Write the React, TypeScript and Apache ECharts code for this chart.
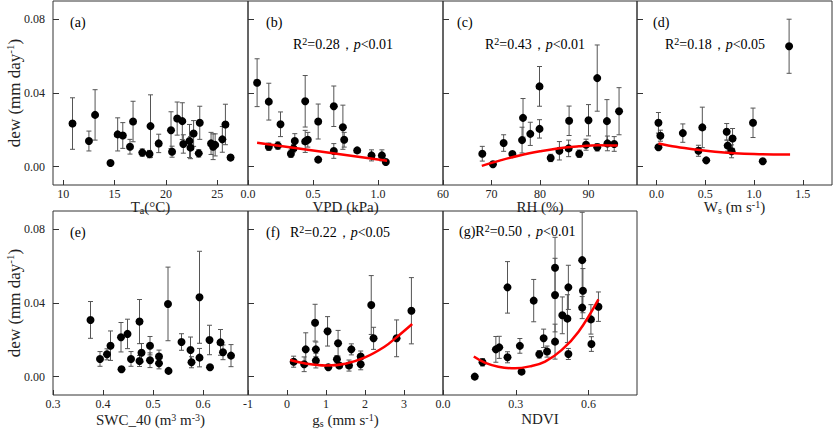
import React, { useEffect, useRef } from 'react';
import * as echarts from 'echarts';

type Pt = [number, number, number]; // x, dew, error
type Fit = [number, number];

// dew vs air temperature
const taPoints: Pt[] = [
  [10.9, 0.0234, 0.014], [12.5, 0.0139, 0.0054], [13.1, 0.0281, 0.0137], [14.6, 0.002, 0],
  [15.3, 0.0175, 0.009], [15.8, 0.0169, 0.007], [16.5, 0.0108, 0.004], [16.8, 0.0245, 0.011],
  [17.7, 0.0076, 0.002], [18.4, 0.0068, 0.002], [18.5, 0.022, 0.017], [19.3, 0.0126, 0.005],
  [20.5, 0.0198, 0.01], [20.6, 0.0081, 0.003], [21.1, 0.0261, 0.009], [21.6, 0.0247, 0.01],
  [21.7, 0.0123, 0.005], [22.3, 0.0139, 0.009], [22.4, 0.0103, 0.006], [22.7, 0.018, 0.007],
  [23.3, 0.0238, 0.009], [23.2, 0.0072, 0.002], [24.4, 0.0126, 0.006], [24.6, 0.0108, 0.007],
  [24.8, 0.0118, 0.006], [25.5, 0.0148, 0.007], [25.8, 0.0229, 0.011], [26.3, 0.0049, 0],
];

const vpdPoints: Pt[] = [
  [0.07, 0.0456, 0.013], [0.16, 0.0353, 0.01], [0.16, 0.0108, 0.002], [0.23, 0.0114, 0.002],
  [0.25, 0.023, 0.0067], [0.33, 0.007, 0.002], [0.35, 0.0099, 0.002], [0.36, 0.0139, 0.004],
  [0.44, 0.0355, 0.014], [0.44, 0.0137, 0.006], [0.46, 0.0146, 0.004], [0.54, 0.0245, 0.0095],
  [0.54, 0.0038, 0], [0.66, 0.0328, 0.011], [0.66, 0.0085, 0.004], [0.73, 0.0214, 0.012],
  [0.74, 0.0146, 0.004], [0.84, 0.0088, 0.001], [0.95, 0.0061, 0.003], [1.03, 0.0061, 0.003],
  [1.06, 0.0025, 0],
];
const vpdFit: Fit[] = [[0.07, 0.013], [1.07, 0.0032]];

const rhPoints: Pt[] = [
  [68.1, 0.007, 0.004], [70.3, 0.0013, 0], [72.5, 0.0128, 0.0045], [74.3, 0.0068, 0.001],
  [76.5, 0.0265, 0.0105], [76.3, 0.0144, 0.007], [78.0, 0.0178, 0.0063], [79.9, 0.0436, 0.0108],
  [79.9, 0.0205, 0.005], [82.2, 0.0047, 0.002], [84.0, 0.0086, 0.005], [86.0, 0.0249, 0.008],
  [85.9, 0.0099, 0.0045], [88.1, 0.007, 0.002], [89.5, 0.0119, 0.003], [90.0, 0.0252, 0.0085],
  [91.8, 0.0481, 0.018], [91.8, 0.0105, 0.002], [93.8, 0.0247, 0.0117], [93.9, 0.0126, 0.004],
  [95.3, 0.0123, 0.004], [96.3, 0.0301, 0.0128],
];
const rhFit: Fit[] = [
  [68, 0.0004], [72, 0.0035], [76, 0.0062], [80, 0.0083], [84, 0.01], [88, 0.011], [92, 0.0116], [96, 0.0114],
];

const wsPoints: Pt[] = [
  [0.02, 0.0238, 0.0056], [0.04, 0.0168, 0.003], [0.02, 0.0105, 0.001], [0.27, 0.0182, 0.005],
  [0.43, 0.0086, 0.003], [0.47, 0.0213, 0.011], [0.51, 0.0034, 0], [0.72, 0.0189, 0.0045],
  [0.73, 0.0114, 0.003], [0.78, 0.0153, 0.0054], [0.77, 0.0083, 0.0035], [0.99, 0.0238, 0.008],
  [1.09, 0.0029, 0], [1.36, 0.0654, 0.0147],
];
const wsFit: Fit[] = [
  [0.02, 0.0126], [0.2, 0.0108], [0.4, 0.0093], [0.6, 0.0081], [0.8, 0.0073], [1.0, 0.0068], [1.2, 0.0066], [1.37, 0.0066],
];

const swcPoints: Pt[] = [
  [0.375, 0.0308, 0.01], [0.394, 0.0096, 0.004], [0.408, 0.0121, 0.003], [0.415, 0.0168, 0.008],
  [0.436, 0.0214, 0.008], [0.437, 0.004, 0], [0.449, 0.0232, 0.008], [0.456, 0.0096, 0.004],
  [0.473, 0.0299, 0.012], [0.473, 0.0085, 0.003], [0.477, 0.013, 0.005], [0.494, 0.0168, 0.005],
  [0.494, 0.0089, 0.004], [0.512, 0.0109, 0.0035], [0.512, 0.0072, 0.003], [0.53, 0.0395, 0.02],
  [0.531, 0.0031, 0], [0.557, 0.0188, 0.0045], [0.575, 0.0145, 0.007], [0.577, 0.0078, 0.003],
  [0.593, 0.0431, 0.025], [0.593, 0.0103, 0.005], [0.613, 0.0199, 0.008], [0.614, 0.0051, 0.001],
  [0.635, 0.0186, 0.007], [0.64, 0.0132, 0.004], [0.656, 0.0114, 0.006],
];

const gsPoints: Pt[] = [
  [0.17, 0.0081, 0.003], [0.44, 0.0067, 0.004], [0.48, 0.0148, 0.009], [0.72, 0.0293, 0.01],
  [0.74, 0.0148, 0.004], [0.74, 0.0087, 0.004], [1.04, 0.0246, 0.008], [1.06, 0.0051, 0.001],
  [1.28, 0.0094, 0.002], [1.31, 0.0181, 0.007], [1.34, 0.006, 0.001], [1.59, 0.006, 0.003],
  [1.65, 0.0148, 0.003], [1.89, 0.0067, 0.003], [1.89, 0.0109, 0.003], [2.16, 0.0389, 0.016],
  [2.22, 0.0208, 0.006], [2.81, 0.0208, 0.01], [3.19, 0.0358, 0.018],
];
const gsFit: Fit[] = [
  [0.08, 0.009], [0.5, 0.007], [1.0, 0.006], [1.5, 0.007], [2.0, 0.0104], [2.5, 0.0162], [2.8, 0.0212], [3.21, 0.0286],
];

const ndviPoints: Pt[] = [
  [0.131, 0.0, 0], [0.163, 0.0078, 0.002], [0.218, 0.0148, 0.007], [0.232, 0.0159, 0.006],
  [0.266, 0.0485, 0.014], [0.266, 0.0105, 0.003], [0.317, 0.0167, 0.004], [0.324, 0.0027, 0],
  [0.374, 0.0413, 0.0115], [0.397, 0.0121, 0.002], [0.415, 0.0208, 0.005], [0.429, 0.0136, 0.003],
  [0.462, 0.0592, 0.0165], [0.462, 0.0443, 0.02], [0.462, 0.019, 0.0095], [0.492, 0.0333, 0.01],
  [0.513, 0.0315, 0.013], [0.517, 0.0485, 0.012], [0.517, 0.0123, 0.003], [0.574, 0.0633, 0.026],
  [0.577, 0.0467, 0.012], [0.574, 0.0375, 0.006], [0.61, 0.0311, 0.008], [0.612, 0.0177, 0.004],
  [0.641, 0.038, 0.008],
];
const ndviFit: Fit[] = [
  [0.127, 0.0109], [0.172, 0.0076], [0.228, 0.0054], [0.297, 0.0045], [0.366, 0.0058],
  [0.421, 0.0081], [0.49, 0.0145], [0.559, 0.0244], [0.641, 0.042],
];

const dewTicks = [0, 0.04, 0.08];

const FONT = 'Liberation Serif';
const INK = '#222';

const rich = {
  n: { fontFamily: FONT, fontSize: 15, color: INK, lineHeight: 16 },
  sub: { fontFamily: FONT, fontSize: 10, color: INK, lineHeight: 9, verticalAlign: 'bottom' },
  sup: { fontFamily: FONT, fontSize: 10, color: INK, lineHeight: 9, verticalAlign: 'top' },
  i: { fontFamily: FONT, fontSize: 14, color: INK, fontStyle: 'italic', lineHeight: 16 },
  s: { fontFamily: FONT, fontSize: 14, color: INK, lineHeight: 16 },
};

const panels = [
  { left: 53, top: 1, width: 195, min: 9, max: 28, ticks: [10, 15, 20, 25], digits: 0, name: '{n|T}{sub|a}{n|(°C)}', gap: 14, points: taPoints, fit: null as Fit[] | null, yLabel: true },
  { left: 248, top: 1, width: 195, min: 0, max: 1.5, ticks: [0, 0.5, 1.0], digits: 1, name: '{n|VPD (kPa)}', gap: 14, points: vpdPoints, fit: vpdFit, yLabel: false },
  { left: 443, top: 1, width: 194, min: 60, max: 100, ticks: [60, 70, 80, 90], digits: 0, name: '{n|RH (%)}', gap: 14, points: rhPoints, fit: rhFit, yLabel: false },
  { left: 637, top: 1, width: 195, min: -0.2, max: 1.8, ticks: [0, 0.5, 1.0, 1.5], digits: 1, name: '{n|W}{sub|s}{n| (m s}{sup|-1}{n|)}', gap: 14, points: wsPoints, fit: wsFit, yLabel: false },
  { left: 53, top: 211, width: 195, min: 0.3, max: 0.69, ticks: [0.3, 0.4, 0.5, 0.6], digits: 1, name: '{n|SWC_40 (m}{sup|3}{n| m}{sup|-3}{n|)}', gap: 17, points: swcPoints, fit: null, yLabel: true },
  { left: 248, top: 211, width: 195, min: -1, max: 4, ticks: [-1, 0, 1, 2, 3], digits: 0, name: '{n|g}{sub|s}{n| (mm s}{sup|-1}{n|)}', gap: 17, points: gsPoints, fit: gsFit, yLabel: false },
  { left: 443, top: 211, width: 194, min: 0, max: 0.8, ticks: [0, 0.3, 0.6], digits: 1, name: '{n|NDVI}', gap: 16, points: ndviPoints, fit: ndviFit, yLabel: false },
];

const stat = (r2: string, p: string) => `{s|R}{sup|2}{s|=${r2}，}{i|p}{s|<${p}}`;

const labels = [
  { x: 70, y: 22, text: '{s|(a)}' },
  { x: 266, y: 22, text: '{s|(b)}' },
  { x: 457, y: 22, text: '{s|(c)}' },
  { x: 653, y: 22, text: '{s|(d)}' },
  { x: 293, y: 44, text: stat('0.28', '0.01') },
  { x: 485, y: 44, text: stat('0.43', '0.01') },
  { x: 665, y: 44, text: stat('0.18', '0.05') },
  { x: 70, y: 232, text: '{s|(e)}' },
  { x: 266, y: 232, text: '{s|(f)}' },
  { x: 290, y: 232, text: stat('0.22', '0.05') },
  { x: 459, y: 231, text: '{s|(g)}' + stat('0.50', '0.01') },
];

const App = () => {
  const chartRef = useRef<HTMLDivElement>(null);

  useEffect(() => {
    if (!chartRef.current) return;
    const chart = echarts.init(chartRef.current, null, { renderer: 'svg' });

    const grid = panels.map((p) => ({
      left: p.left, top: p.top, width: p.width, height: 184,
      show: true, borderColor: '#333', borderWidth: 1, containLabel: false,
    }));

    const xAxis = panels.map((p, i) => ({
      type: 'value', gridIndex: i, min: p.min, max: p.max, position: 'bottom',
      splitLine: { show: false },
      axisLine: { show: false, onZero: false },
      axisTick: { inside: true, length: 5, customValues: p.ticks, lineStyle: { color: '#333' } },
      axisLabel: {
        customValues: p.ticks, margin: 3, fontFamily: FONT, fontSize: 12, color: INK,
        formatter: (v: number) => v.toFixed(p.digits),
      },
      name: p.name, nameLocation: 'middle', nameGap: p.gap, nameMoveOverlap: false,
      nameTextStyle: { rich },
    }));

    const yAxis = panels.map((p, i) => ({
      type: 'value', gridIndex: i, min: -0.01, max: 0.09, position: 'left',
      splitLine: { show: false },
      axisLine: { show: false, onZero: false },
      axisTick: { inside: true, length: 6, customValues: dewTicks, lineStyle: { color: '#333' } },
      axisLabel: {
        show: p.yLabel, customValues: dewTicks, margin: 8, fontFamily: FONT, fontSize: 12, color: INK,
        formatter: (v: number) => v.toFixed(2),
      },
      name: p.yLabel ? '{n|dew (mm day}{sup|-1}{n|)}' : '',
      nameLocation: 'middle', nameGap: 29, nameRotate: 90, nameMoveOverlap: false,
      nameTextStyle: { rich: { ...rich, n: { ...rich.n, fontSize: 17, lineHeight: 20 }, sup: { ...rich.sup, fontSize: 11 } } },
    }));

    const series: any[] = [];
    panels.forEach((p, i) => {
      series.push({
        type: 'custom', xAxisIndex: i, yAxisIndex: i, silent: true, z: 1,
        data: p.points.map((d) => [d[0], d[1] - d[2], d[1] + d[2]]),
        encode: { x: 0, y: [1, 2] },
        renderItem: (_params: any, api: any) => {
          const x = api.value(0);
          const lo = api.coord([x, api.value(1)]);
          const hi = api.coord([x, api.value(2)]);
          const w = 2.5;
          const style = { stroke: '#555', lineWidth: 1 };
          return {
            type: 'group',
            children: [
              { type: 'line', shape: { x1: lo[0], y1: lo[1], x2: hi[0], y2: hi[1] }, style },
              { type: 'line', shape: { x1: hi[0] - w, y1: hi[1], x2: hi[0] + w, y2: hi[1] }, style },
              { type: 'line', shape: { x1: lo[0] - w, y1: lo[1], x2: lo[0] + w, y2: lo[1] }, style },
            ],
          };
        },
      });
      series.push({
        type: 'scatter', xAxisIndex: i, yAxisIndex: i, z: 3,
        symbolSize: 8, itemStyle: { color: '#000', opacity: 1 },
        data: p.points.map((d) => [d[0], d[1]]),
      });
      if (p.fit) {
        series.push({
          type: 'line', xAxisIndex: i, yAxisIndex: i, z: 4,
          smooth: 0.4, showSymbol: false,
          lineStyle: { color: '#f00', width: 2.5 },
          data: p.fit,
        });
      }
    });

    chart.setOption({
      animation: false,
      backgroundColor: '#fff',
      grid, xAxis, yAxis, series,
      graphic: labels.map((l) => ({
        type: 'text', x: l.x, y: l.y, z: 10,
        style: { text: l.text, rich, verticalAlign: 'middle', textVerticalAlign: 'middle' },
      })),
    });

    return () => {
      chart.dispose();
    };
  }, []);

  return <div ref={chartRef} style={{ position: 'fixed', left: 0, top: 0, width: '834px', height: '429px' }}></div>;
};

export default App;
